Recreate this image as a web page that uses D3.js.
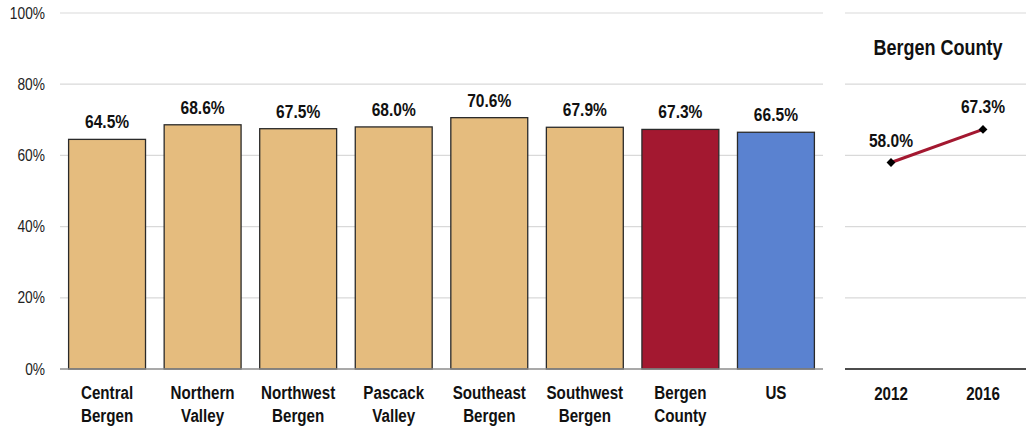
<!DOCTYPE html>
<html><head><meta charset="utf-8">
<script src="https://cdn.jsdelivr.net/npm/d3@7"></script>
<style>body{margin:0;background:#fff}svg{display:block}</style>
</head><body>
<svg id="c" width="1026" height="428"></svg>
<script>
const categories = [["Central","Bergen"],["Northern","Valley"],["Northwest","Bergen"],["Pascack","Valley"],["Southeast","Bergen"],["Southwest","Bergen"],["Bergen","County"],["US"]];
const values = [64.5, 68.6, 67.5, 68.0, 70.6, 67.9, 67.3, 66.5];
const barColors = ["#E5BC7E","#E5BC7E","#E5BC7E","#E5BC7E","#E5BC7E","#E5BC7E","#A31830","#5A82D0"];
const yTicks = [0, 20, 40, 60, 80, 100];
const years = ["2012", "2016"];
const trend = [58.0, 67.3];
const trendTitle = "Bergen County";

const svg = d3.select("#c");
const FONT = "'Liberation Sans',Arial,sans-serif";
const SX = 0.82;
const pos = (px, py, s) => `translate(${px},${py}) scale(${s || SX},1)`;
const y = d3.scaleLinear().domain([0, 100]).range([369, 13]);
const x = d3.scaleBand().domain(d3.range(categories.length)).range([60, 823]).paddingInner(0.195).paddingOuter(0.09);
const cx = i => x(i) + x.bandwidth() / 2;

// gridlines left
svg.append("g").selectAll("line").data(yTicks.filter(d => d > 0)).join("line")
  .attr("x1", 60).attr("x2", 823).attr("y1", d => y(d)).attr("y2", d => y(d))
  .attr("stroke", "#d9d9d9").attr("stroke-width", 1.2);
// y labels
svg.append("g").selectAll("text").data(yTicks).join("text")
  .attr("transform", d => pos(45, y(d) + 5.5, 0.86)).attr("text-anchor", "end")
  .attr("font-family", FONT).attr("font-size", 16).attr("fill", "#222")
  .text(d => d + "%");
// bars
svg.append("g").selectAll("rect").data(values).join("rect")
  .attr("x", (d, i) => x(i)).attr("width", x.bandwidth())
  .attr("y", d => y(d)).attr("height", d => y(0) - y(d))
  .attr("fill", (d, i) => barColors[i]).attr("stroke", "#2a2a2a").attr("stroke-width", 1.3);
// baseline left
svg.append("line").attr("x1", 60).attr("x2", 823).attr("y1", y(0)).attr("y2", y(0))
  .attr("stroke", "#8c8c8c").attr("stroke-width", 1.3);
// value labels
svg.append("g").selectAll("text").data(values).join("text")
  .attr("transform", (d, i) => pos(cx(i), y(d) - 11))
  .attr("text-anchor", "middle").attr("font-family", FONT).attr("font-weight", "bold")
  .attr("font-size", 19).attr("fill", "#111").text(d => d.toFixed(1) + "%");
// category labels
const cl = svg.append("g").selectAll("text").data(categories).join("text")
  .attr("transform", (d, i) => pos(cx(i), 399))
  .attr("text-anchor", "middle").attr("font-family", FONT).attr("font-weight", "bold")
  .attr("font-size", 18.5).attr("fill", "#111");
cl.selectAll("tspan").data(d => d).join("tspan")
  .attr("x", 0).attr("dy", (d, i) => i === 0 ? 0 : 23).text(d => d);

// right panel
const xp = d3.scalePoint().domain(years).range([845, 1029]).padding(0.5);
svg.append("g").selectAll("line").data(yTicks.filter(d => d > 0)).join("line")
  .attr("x1", 845).attr("x2", 1026).attr("y1", d => y(d)).attr("y2", d => y(d))
  .attr("stroke", "#d9d9d9").attr("stroke-width", 1.2);
svg.append("line").attr("x1", 845).attr("x2", 1026).attr("y1", y(0)).attr("y2", y(0))
  .attr("stroke", "#111").attr("stroke-width", 1.5);
svg.append("g").selectAll("text").data(years).join("text")
  .attr("transform", d => pos(xp(d), 400)).attr("text-anchor", "middle")
  .attr("font-family", FONT).attr("font-weight", "bold").attr("font-size", 18.5).attr("fill", "#111")
  .text(d => d);
svg.append("text").attr("transform", pos(938, 55)).attr("text-anchor", "middle")
  .attr("font-family", FONT).attr("font-weight", "bold").attr("font-size", 22).attr("fill", "#111")
  .text(trendTitle);
const line = d3.line().x((d, i) => xp(years[i])).y(d => y(d));
svg.append("path").datum(trend).attr("d", line).attr("fill", "none")
  .attr("stroke", "#A31830").attr("stroke-width", 3);
svg.append("g").selectAll("path").data(trend).join("path")
  .attr("d", d3.symbol(d3.symbolDiamond2, 50)())
  .attr("transform", (d, i) => `translate(${xp(years[i])},${y(d)})`)
  .attr("fill", "#000");
svg.append("g").selectAll("text").data(trend).join("text")
  .attr("transform", (d, i) => pos(xp(years[i]), y(d) - 16)).attr("text-anchor", "middle")
  .attr("font-family", FONT).attr("font-weight", "bold").attr("font-size", 19).attr("fill", "#111")
  .text(d => d.toFixed(1) + "%");
</script>
</body></html>
